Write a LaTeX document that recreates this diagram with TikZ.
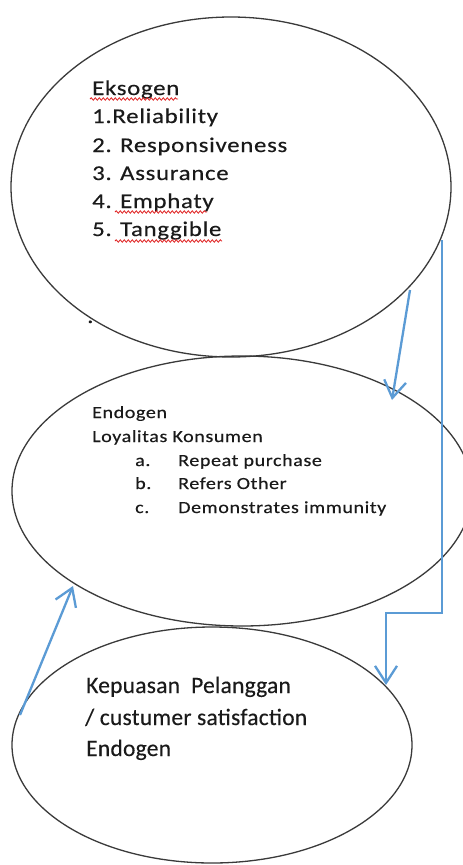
\documentclass[tikz,border=0pt]{standalone}
\usepackage{fontspec}
\setmainfont{Carlito}
\newfontfamily\fwide[LetterSpace=3.5,FakeStretch=1.18,FakeBold=0.4]{Carlito}
\newfontfamily\fnorm[LetterSpace=1,FakeBold=0.3]{Carlito}
\usetikzlibrary{shapes.geometric,arrows.meta,decorations.pathmorphing}
\definecolor{arrowblue}{HTML}{5B9BD5}
\definecolor{ellgray}{HTML}{3A3A3A}
\definecolor{squig}{HTML}{E02020}
\definecolor{txtcol}{HTML}{1A1A1A}
\begin{document}
\begin{tikzpicture}[x=1pt,y=-1pt,
  bubble/.style={ellipse, draw=ellgray, line width=1.3pt, inner sep=0pt, outer sep=0pt},
  txtA/.style={anchor=base west, inner sep=0pt, text=txtcol, font=\fwide\fontsize{21pt}{25pt}\selectfont},
  txtB/.style={anchor=base west, inner sep=0pt, text=txtcol, font=\fwide\fontsize{17pt}{20pt}\selectfont},
  txtC/.style={anchor=base west, inner sep=0pt, text=txtcol, font=\fnorm\fontsize{23.5pt}{28pt}\selectfont},
  squiggle/.style={draw=squig, line width=0.8pt, decorate, decoration={snake, amplitude=1.2pt, segment length=4pt}},
  arr/.style={draw=arrowblue, line width=2.3pt, -{Straight Barb[length=17pt, width=22pt, line width=2.3pt]}}
]
\useasboundingbox (0,0) rectangle (463,865);
\fill[white] (0,0) rectangle (463,865);

% ellipses
\node[bubble, minimum width=440pt, minimum height=340pt] (e1) at (231,187) {};
\node[bubble, minimum width=460pt, minimum height=270pt] (e2) at (242,491) {};
\node[bubble, minimum width=400pt, minimum height=236pt] (e3) at (212,745) {};

% ellipse 1 text
\node[txtA] (t10) at (92,95) {Eksogen};
\node[txtA] (t11) at (92,123) {1.Reliability};
\node[txtA] (t12) at (92,152) {2. Responsiveness};
\node[txtA] (t13) at (92,180) {3. Assurance};
\node[txtA] (t14) at (92,208) {4. Emphaty};
\node[txtA] (t15) at (92,236) {5. Tanggible};
\draw[squiggle] (90,99) -- (178,99);
\draw[squiggle] (115,212) -- (207,212);
\draw[squiggle] (115,241) -- (222,241);
\node[txtA] (dot) at (87,323) {.};

% ellipse 2 text
\node[txtB] (t20) at (92,418) {Endogen};
\node[txtB] (t21) at (92,442) {Loyalitas Konsumen};
\node[txtB] (t22a) at (135,466) {a.};
\node[txtB] (t22) at (178,466) {Repeat purchase};
\node[txtB] (t23a) at (135,489) {b.};
\node[txtB] (t23) at (178,489) {Refers Other};
\node[txtB] (t24a) at (135,513) {c.};
\node[txtB] (t24) at (178,513) {Demonstrates immunity};

% ellipse 3 text
\node[txtC] (t30) at (86,693) {Kepuasan\ \ Pelanggan};
\node[txtC] (t31) at (85,725) {/ custumer satisfaction};
\node[txtC] (t32) at (86,756) {Endogen};

% connectors
\coordinate (a1s) at (410,290);
\coordinate (a1e) at (392,400);
\coordinate (a2s) at (442,240);
\coordinate (a2c) at (386,613);
\coordinate (a2e) at (386,685);
\coordinate (a3s) at (20,715);
\coordinate (a3e) at (73,586);
\draw[arr] (a1s) -- (a1e);
\draw[arr] (a2s) |- (a2c) -- (a2e);
\draw[arr] (a3s) -- (a3e);
\end{tikzpicture}
\end{document}
